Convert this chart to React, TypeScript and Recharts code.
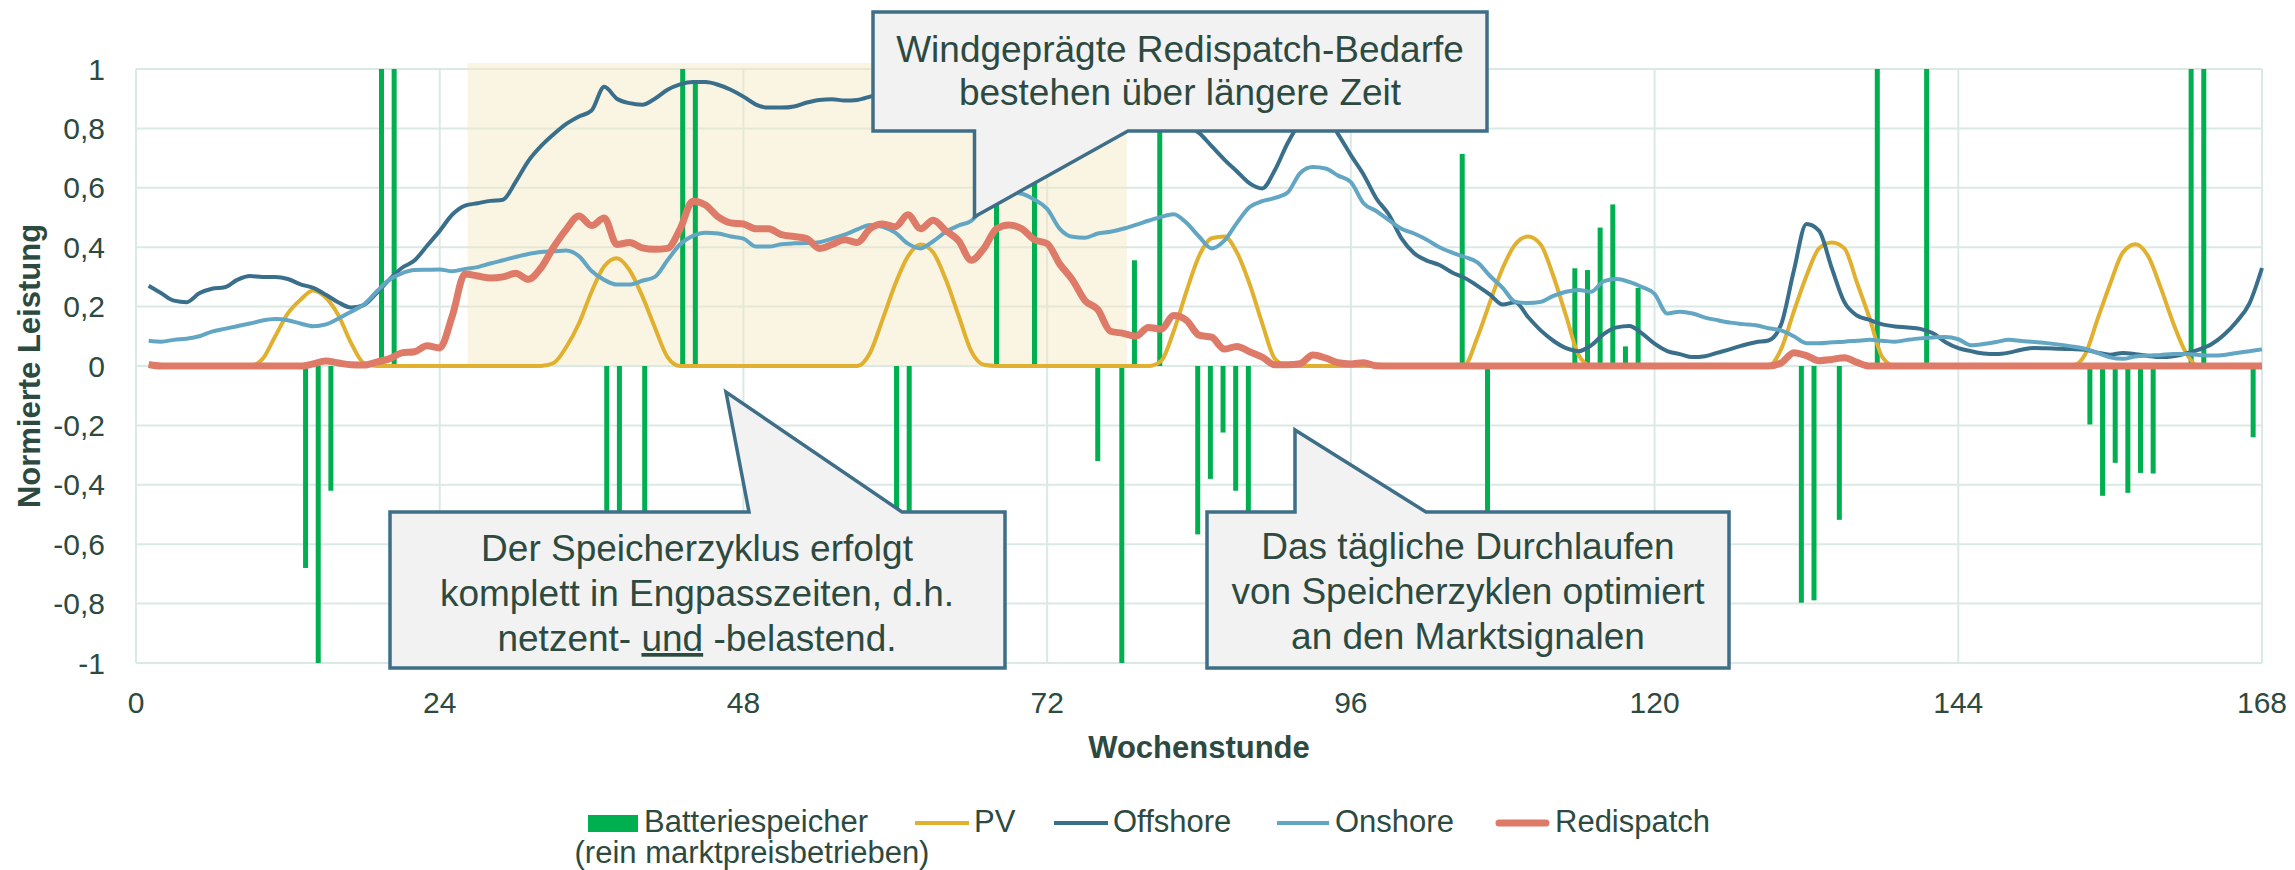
import { ComposedChart, Bar, Line, XAxis, YAxis, CartesianGrid, ReferenceArea } from 'recharts';

// Wochenstunden 1..168
const hours = Array.from({ length: 168 }, (_, i) => i + 1);

const pv = [
  0, 0, 0, 0, 0, 0, 0, 0, 0, 0.024, 0.1, 0.177,
  0.223, 0.254, 0.23, 0.17, 0.077, 0.01, 0, 0, 0, 0, 0, 0,
  0, 0, 0, 0, 0, 0, 0, 0, 0.01, 0.064, 0.143, 0.25,
  0.336, 0.363, 0.323, 0.236, 0.13, 0.03, 0, 0, 0, 0, 0, 0,
  0, 0, 0, 0, 0, 0, 0, 0, 0, 0.044, 0.157, 0.276,
  0.369, 0.409, 0.382, 0.29, 0.17, 0.05, 0.004, 0, 0, 0, 0, 0,
  0, 0, 0, 0, 0, 0, 0, 0, 0.017, 0.117, 0.25, 0.37,
  0.43, 0.436, 0.382, 0.276, 0.143, 0.024, 0, 0, 0, 0, 0, 0,
  0, 0, 0, 0, 0, 0, 0, 0, 0.004, 0.097, 0.216, 0.33,
  0.41, 0.436, 0.409, 0.303, 0.17, 0.037, 0, 0, 0, 0, 0, 0,
  0, 0, 0, 0, 0, 0, 0, 0, 0, 0.057, 0.183, 0.303,
  0.396, 0.416, 0.396, 0.28, 0.16, 0.03, 0, 0, 0, 0, 0, 0,
  0, 0, 0, 0, 0, 0, 0, 0, 0, 0.037, 0.157, 0.276,
  0.382, 0.41, 0.37, 0.263, 0.143, 0.044, 0, 0, 0, 0, 0, 0,
];

const offshore = [
  0.27, 0.245, 0.22, 0.215, 0.245, 0.26, 0.265, 0.29, 0.303, 0.3, 0.3, 0.293,
  0.275, 0.263, 0.24, 0.214, 0.197, 0.205, 0.245, 0.29, 0.33, 0.355, 0.405, 0.455,
  0.51, 0.54, 0.548, 0.556, 0.56, 0.62, 0.69, 0.74, 0.78, 0.815, 0.84, 0.86,
  0.94, 0.9, 0.885, 0.88, 0.9, 0.93, 0.948, 0.956, 0.956, 0.947, 0.93, 0.907,
  0.88, 0.87, 0.87, 0.874, 0.887, 0.896, 0.898, 0.894, 0.896, 0.907, 0.92, 0.94,
  0.96, 0.97, 0.97, 0.96, 0.94, 0.93, 0.93, 0.94, 0.95, 0.95, 0.94, 0.93,
  0.92, 0.92, 0.93, 0.93, 0.92, 0.91, 0.9, 0.88, 0.86, 0.84, 0.81, 0.785,
  0.74, 0.695, 0.655, 0.615, 0.598, 0.66, 0.75, 0.82, 0.85, 0.84, 0.78, 0.71,
  0.645, 0.565, 0.51, 0.43, 0.38, 0.355, 0.34, 0.315, 0.296, 0.27, 0.24, 0.207,
  0.215, 0.165, 0.12, 0.085, 0.06, 0.05, 0.07, 0.108, 0.13, 0.135, 0.11, 0.075,
  0.05, 0.04, 0.03, 0.033, 0.045, 0.057, 0.07, 0.08, 0.086, 0.14, 0.32, 0.478,
  0.455, 0.33, 0.215, 0.17, 0.155, 0.14, 0.133, 0.13, 0.125, 0.11, 0.08, 0.06,
  0.05, 0.042, 0.04, 0.045, 0.055, 0.061, 0.06, 0.058, 0.057, 0.055, 0.045, 0.038,
  0.044, 0.04, 0.034, 0.03, 0.033, 0.042, 0.055, 0.073, 0.105, 0.15, 0.21, 0.33,
];

const onshore = [
  0.085, 0.082, 0.088, 0.092, 0.1, 0.116, 0.125, 0.134, 0.143, 0.153, 0.158, 0.154,
  0.143, 0.134, 0.14, 0.16, 0.183, 0.207, 0.25, 0.29, 0.312, 0.323, 0.324, 0.325,
  0.319, 0.327, 0.333, 0.345, 0.356, 0.367, 0.377, 0.384, 0.386, 0.389, 0.37, 0.32,
  0.29, 0.274, 0.274, 0.287, 0.3, 0.356, 0.41, 0.438, 0.449, 0.446, 0.436, 0.429,
  0.402, 0.402, 0.41, 0.413, 0.414, 0.417, 0.429, 0.442, 0.46, 0.475, 0.469, 0.449,
  0.412, 0.396, 0.42, 0.452, 0.473, 0.489, 0.535, 0.56, 0.585, 0.58, 0.56, 0.529,
  0.462, 0.435, 0.432, 0.446, 0.452, 0.462, 0.475, 0.489, 0.502, 0.511, 0.482, 0.436,
  0.396, 0.422, 0.482, 0.535, 0.555, 0.566, 0.584, 0.65, 0.67, 0.665, 0.641, 0.619,
  0.548, 0.522, 0.491, 0.462, 0.446, 0.425, 0.4, 0.382, 0.367, 0.349, 0.303, 0.263,
  0.216, 0.212, 0.216, 0.236, 0.25, 0.256, 0.25, 0.286, 0.293, 0.283, 0.266, 0.243,
  0.177, 0.183, 0.177, 0.163, 0.154, 0.146, 0.141, 0.137, 0.127, 0.12, 0.1, 0.077,
  0.077, 0.08, 0.082, 0.085, 0.088, 0.085, 0.082, 0.088, 0.093, 0.096, 0.098, 0.09,
  0.07, 0.074, 0.081, 0.088, 0.084, 0.081, 0.077, 0.072, 0.066, 0.058, 0.044, 0.029,
  0.024, 0.032, 0.035, 0.037, 0.04, 0.04, 0.037, 0.035, 0.037, 0.044, 0.05, 0.056,
];

const redispatch = [
  0.005, 0, 0, 0, 0, 0, 0, 0, 0, 0, 0, 0,
  0, 0.007, 0.017, 0.01, 0.004, 0.003, 0.013, 0.024, 0.044, 0.048, 0.068, 0.061,
  0.17, 0.31, 0.303, 0.296, 0.3, 0.312, 0.292, 0.33, 0.4, 0.46, 0.505, 0.473,
  0.498, 0.409, 0.416, 0.398, 0.393, 0.396, 0.462, 0.555, 0.542, 0.502, 0.482, 0.478,
  0.462, 0.462, 0.442, 0.436, 0.429, 0.396, 0.409, 0.425, 0.416, 0.462, 0.478, 0.469,
  0.509, 0.462, 0.491, 0.455, 0.422, 0.356, 0.396, 0.462, 0.475, 0.462, 0.425, 0.412,
  0.343, 0.29, 0.22, 0.19, 0.117, 0.11, 0.1, 0.13, 0.124, 0.17, 0.154, 0.104,
  0.097, 0.057, 0.066, 0.048, 0.03, 0.004, 0.004, 0.008, 0.037, 0.027, 0.011, 0.007,
  0.011, 0.001, 0, 0, 0, 0, 0, 0, 0, 0, 0, 0,
  0, 0, 0, 0, 0, 0, 0, 0, 0, 0, 0, 0,
  0, 0, 0, 0, 0, 0, 0, 0, 0, 0.01, 0.045, 0.035,
  0.018, 0.022, 0.028, 0.012, 0, 0, 0, 0, 0, 0, 0, 0,
  0, 0, 0, 0, 0, 0, 0, 0, 0, 0, 0, 0,
  0, 0, 0, 0, 0, 0, 0, 0, 0, 0, 0, 0,
];

// Batteriespeicher: Lage der Säulen auf der Stundenachse und Leistung
const batteryHours = [
  13.4, 14.4, 15.4, 19.4, 20.4, 37.2, 38.2, 40.2, 43.2, 44.2, 60.1, 61.1, 68.0, 71.0,
  76.0, 77.9, 78.9, 80.9, 83.9, 84.9, 85.9, 86.9, 87.9, 104.8, 106.8,
  113.7, 114.7, 115.7, 116.7, 117.7, 118.7, 131.6, 132.6, 134.6, 137.6, 141.5,
  154.4, 155.4, 156.4, 157.4, 158.4, 159.4, 162.4, 163.4, 167.3,
];
const batteryValues = [
  -0.68, -1, -0.42, 1, 1, -0.55, -0.55, -0.52, 1, 0.96, -0.55, -0.55, 1, 1, -0.32, -1, 0.356, 1,
  -0.567, -0.38, -0.224, -0.42, -0.55, 0.714, -0.6, 0.329, 0.323, 0.466, 0.544, 0.066, 0.263,
  -0.797, -0.789, -0.518, 1, 1, -0.197, -0.437, -0.326, -0.427, -0.36, -0.362, 1, 1, -0.24,
];

const xTicks = [0, 24, 48, 72, 96, 120, 144, 168];
const yTicks = [-1, -0.8, -0.6, -0.4, -0.2, 0, 0.2, 0.4, 0.6, 0.8, 1];

// Engpasszeitraum (hinterlegt)
const congestionStart = 26.2;
const congestionEnd = 78.3;

type Row = {
  hour: number;
  pv?: number;
  offshore?: number;
  onshore?: number;
  redispatch?: number;
  battery?: number;
};

const lineRows: Row[] = hours.map((hour, i) => ({
  hour,
  pv: pv[i],
  offshore: offshore[i],
  onshore: onshore[i],
  redispatch: redispatch[i],
}));
const batteryRows: Row[] = batteryHours.map((hour, i) => ({ hour, battery: batteryValues[i] }));
const rows = [...lineRows, ...batteryRows].sort((a, b) => a.hour - b.hour);

const C = {
  text: '#2d4a41',
  grid: '#dbe9e5',
  battery: '#00b050',
  pv: '#e0b02e',
  offshore: '#3a6f8b',
  onshore: '#62a6c3',
  redispatch: '#de7a68',
  border: '#3f6f88',
  box: '#f2f2f2',
};

const fmt = (v: number) => String(v).replace('.', ',');

// schmale Säule, mittig auf der von Recharts berechneten Position
function ThinBar(props: any) {
  const { x, y, width, height, fill } = props;
  if (x == null || y == null || !height) return null;
  const top = Math.min(y, y + height);
  const h = Math.abs(height);
  const cx = x + width / 2;
  return <rect x={cx - 2.5} y={top} width={5} height={h} fill={fill} />;
}

function Callouts() {
  const t = { fontSize: 37, fill: C.text, textAnchor: 'middle' as const };
  const box = { fill: C.box, stroke: C.border, strokeWidth: 3.5, strokeLinejoin: 'miter' as const };
  return (
    <svg width={2295} height={870} style={{ position: 'absolute', left: 0, top: 0, pointerEvents: 'none' }}>
      {/* Windgeprägte Redispatch-Bedarfe */}
      <path d="M873 12H1487V131H1128L974.5 216.7V131H873Z" {...box} />
      <text x={1180} y={62} {...t}>Windgeprägte Redispatch-Bedarfe</text>
      <text x={1180} y={105} {...t}>bestehen über längere Zeit</text>

      {/* Speicherzyklus in Engpasszeiten */}
      <path d="M390 512H749L726 392L902 512H1005V668H390Z" {...box} />
      <text x={697} y={561} {...t}>Der Speicherzyklus erfolgt</text>
      <text x={697} y={606} {...t}>komplett in Engpasszeiten, d.h.</text>
      <text x={697} y={651} {...t}>
        netzent- <tspan style={{ textDecoration: 'underline' }}>und</tspan> -belastend.
      </text>

      {/* Tägliches Durchlaufen */}
      <path d="M1207 512H1295V430L1426 512H1729V668H1207Z" {...box} />
      <text x={1468} y={559} {...t}>Das tägliche Durchlaufen</text>
      <text x={1468} y={604} {...t}>von Speicherzyklen optimiert</text>
      <text x={1468} y={649} {...t}>an den Marktsignalen</text>

      {/* Legende */}
      <g style={{ fontSize: 31, fill: C.text }}>
        <rect x={588} y={815} width={50} height={17} fill={C.battery} />
        <text x={644} y={832}>Batteriespeicher</text>
        <text x={752} y={863} textAnchor="middle">(rein marktpreisbetrieben)</text>

        <line x1={915} x2={969} y1={823} y2={823} stroke={C.pv} strokeWidth={4} />
        <text x={974} y={832}>PV</text>

        <line x1={1054} x2={1108} y1={823} y2={823} stroke={C.offshore} strokeWidth={4} />
        <text x={1113} y={832}>Offshore</text>

        <line x1={1277} x2={1329} y1={823} y2={823} stroke={C.onshore} strokeWidth={4} />
        <text x={1335} y={832}>Onshore</text>

        <line x1={1499} x2={1546} y1={823} y2={823} stroke={C.redispatch} strokeWidth={7} strokeLinecap="round" />
        <text x={1555} y={832}>Redispatch</text>
      </g>
    </svg>
  );
}

export default function App() {
  return (
    <div
      style={{
        position: 'absolute', left: 0, top: 0, width: 2295, height: 870, background: '#fff',
        fontFamily: "'Liberation Sans', Arial, sans-serif", overflow: 'hidden',
      }}
    >
      <ComposedChart width={2295} height={870} data={rows} margin={{ top: 69, right: 33, left: 0, bottom: 107 }}>
        <ReferenceArea
          x1={congestionStart} x2={congestionEnd} y1={0} y2={1.02}
          ifOverflow="visible" fill="#f3e6c2" fillOpacity={0.45} stroke="none"
        />
        <CartesianGrid stroke={C.grid} strokeWidth={2} />
        <XAxis
          type="number" dataKey="hour" domain={[0, 168]} ticks={xTicks}
          axisLine={false} tickLine={false} tickMargin={23} height={100}
          tick={{ fontSize: 30, fill: C.text }}
          label={{ value: 'Wochenstunde', position: 'insideBottom', offset: 5, style: { fontSize: 31, fontWeight: 'bold', fill: C.text } }}
        />
        <YAxis
          type="number" domain={[-1, 1]} ticks={yTicks} width={136}
          axisLine={false} tickLine={false} tickMargin={25} tickFormatter={fmt}
          tick={{ fontSize: 30, fill: C.text }}
          label={{ value: 'Normierte Leistung', angle: -90, position: 'insideLeft', offset: 29, style: { textAnchor: 'middle', fontSize: 31, fontWeight: 'bold', fill: C.text } }}
        />
        <Bar dataKey="battery" fill={C.battery} shape={<ThinBar />} isAnimationActive={false} />
        <Line type="monotone" dataKey="pv" stroke={C.pv} strokeWidth={4} dot={false} connectNulls isAnimationActive={false} />
        <Line type="monotone" dataKey="offshore" stroke={C.offshore} strokeWidth={4} dot={false} connectNulls isAnimationActive={false} />
        <Line type="monotone" dataKey="onshore" stroke={C.onshore} strokeWidth={4} dot={false} connectNulls isAnimationActive={false} />
        <Line type="monotone" dataKey="redispatch" stroke={C.redispatch} strokeWidth={7} dot={false} connectNulls isAnimationActive={false} />
      </ComposedChart>
      <Callouts />
    </div>
  );
}
